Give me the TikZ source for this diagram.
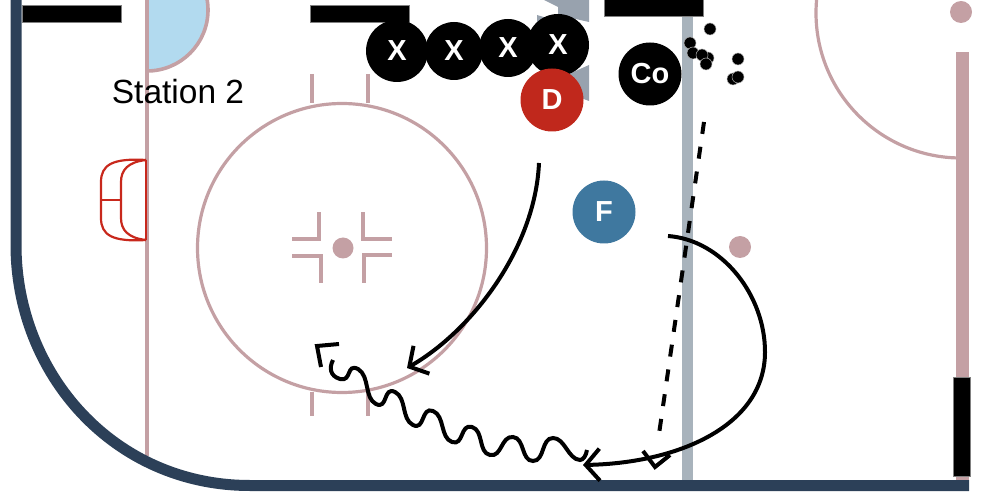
\documentclass[tikz,border=0pt]{standalone}
\usepackage{fontspec}
\setmainfont{Liberation Sans}
\usetikzlibrary{arrows.meta}
\definecolor{boardblue}{HTML}{2C4058}
\definecolor{linepink}{HTML}{C4A0A4}
\definecolor{bluegrey}{HTML}{A8B3BC}
\definecolor{netgrey}{HTML}{98A2AE}
\definecolor{creaseblue}{HTML}{B2DAEF}
\definecolor{netred}{HTML}{C8281C}
\definecolor{defred}{HTML}{C0281C}
\definecolor{fwdblue}{HTML}{3F789F}
\tikzset{
    player/.style={circle,fill=black,text=white,inner sep=0pt,minimum size=60pt,
        font=\bfseries\fontsize{29}{29}\selectfont},
    puck/.style={circle,fill=black,draw=white!70!black,line width=0.5pt,inner sep=0pt,minimum size=12pt},
    rinkline/.style={draw=linepink,line width=3.2pt},
    barrier/.style={fill=black,draw=gray,line width=0.5pt},
    route/.style={draw=black,line width=4pt},
    skate/.style={route,-{Straight Barb[length=14pt,width=32pt]}},
}
\begin{document}
\begin{tikzpicture}[x=1pt,y=-1pt]
    \useasboundingbox (0,0) rectangle (982,502);

    % lines under everything
    \begin{scope}
        \clip (147,-5) rectangle (215,80);
        \fill[creaseblue] (147,10) circle (61);
        \draw[rinkline,line width=3.6pt] (147,10) circle (61);
    \end{scope}
    \draw[rinkline] (147,0) -- (147,456);
    \draw[rinkline] (342,248) circle (144.5);
    \begin{scope}
        \clip (800,-5) rectangle (957,170);
        \draw[rinkline] (961,13) circle (145);
    \end{scope}
    \fill[linepink] (955.5,52) rectangle (969,482);

    % hash marks and face-off dots
    \foreach \x in {312,368}{
        \draw[rinkline] (\x,392) -- (\x,416);
        \draw[rinkline] (\x,74) -- (\x,103);
    }
    \fill[linepink] (343,248) circle (10.5);
    \fill[linepink] (740,247) circle (11);
    \fill[linepink] (961,12) circle (11);
    \draw[rinkline,line width=4pt] (292,239) -- (319,239) -- (319,212);
    \draw[rinkline,line width=4pt] (292,256) -- (321,256) -- (321,283);
    \draw[rinkline,line width=4pt] (392,239) -- (363,239) -- (363,212);
    \draw[rinkline,line width=4pt] (392,255) -- (364,255) -- (364,283);

    % blue line and goal frames
    \fill[bluegrey] (682,16) rectangle (693,481);
    \fill[netgrey] (544,0) -- (558,7) -- (558,15) -- (589,22) -- (589,0) -- cycle;
    \fill[netgrey] (537,15) -- (560,22) -- (537,30) -- cycle;
    \fill[netgrey] (589,65) -- (560,78) -- (560,90) -- (589,101) -- cycle;

    % net
    \draw[netred,line width=2.6pt] (146,160) -- (146,240);
    \draw[netred,line width=2.2pt] (146,160) .. controls (112,158) and (101,165) .. (101,182)
        -- (101,218) .. controls (101,235) and (112,242) .. (146,240);
    \draw[netred,line width=2.2pt] (146,160) .. controls (128,162) and (121,170) .. (121,182)
        -- (121,218) .. controls (121,230) and (128,238) .. (146,240);
    \draw[netred,line width=1.8pt] (101,200) -- (121,200);

    % boards
    \draw[boardblue,line width=11pt] (16,0) -- (16,245) .. controls (16,373) and (113,485.5) .. (250,485.5) -- (969,485.5);

    \fill[barrier] (22,5.5) rectangle (121.5,22);
    \fill[barrier] (310,5.5) rectangle (409,22);
    \fill[barrier] (604,-1) rectangle (703,16);
    \fill[barrier] (953.5,377) rectangle (970.5,476);

    \node (station) at (178,92) {\fontsize{33.5}{34}\selectfont Station 2};

    % players
    \node[player,minimum size=62pt] (xa) at (397,51) {X};
    \node[player,minimum size=58pt] (xb) at (454,51) {X};
    \node[player,minimum size=58pt] (xc) at (508,48) {X};
    \node[player,minimum size=62pt] (xd) at (558,45) {X};
    \node[player,minimum size=63pt] (co) at (650,74) {Co};
    \node[player,fill=defred,minimum size=63pt] (d) at (552,100) {D};
    \node[player,fill=fwdblue,minimum size=63pt] (f) at (604,212) {F};

    % pucks
    \foreach \i/\x/\y in {a/710/29,b/690/43,c/693/53,e/708/58,d/702/55,f/706/64,g/738/59,h/733/79,i/738/77}{
        \node[puck] (puck\i) at (\x,\y) {};
    }

    % routes
    \coordinate (startd) at (539,163);
    \coordinate (endd) at (407,368);
    \coordinate (startf) at (668,236);
    \coordinate (midf) at (765,352);
    \coordinate (endf) at (583,465);
    \coordinate (startco) at (704,122);
    \coordinate (stopco) at (659,434);
    \coordinate (endco) at (655,467);
    \coordinate (startwave) at (587,450);
    \coordinate (stopwave) at (333,360);
    \coordinate (endwave) at (317,346);

    \draw[skate] (startd) .. controls (535,250) and (470,332) .. (endd);
    \draw[route] (startf) .. controls (722,240) and (765,295) .. (midf);
    \draw[skate] (midf) .. controls (765,425) and (680,463) .. (endf);
    \draw[route,dash pattern=on 12pt off 13pt] (startco) -- (stopco);
    \draw[route] (643,451) -- (endco) -- (670,455);

    \draw[route] (startwave) .. controls (586,456) and (583,460) .. (580,460)
        .. controls (568,459.4) and (565,438) .. (553,438)
        .. controls (541,438) and (545,461) .. (533,461)
        .. controls (521,461) and (525,438.2) .. (513,437)
        .. controls (501,435.8) and (502,457.4) .. (490,455)
        .. controls (478,452.6) and (484,430.6) .. (472,427)
        .. controls (460,423.4) and (464,446.2) .. (452,442)
        .. controls (440,437.8) and (445,415.8) .. (433,411)
        .. controls (421,406.2) and (425,431) .. (413,425)
        .. controls (401,419) and (407,398) .. (395,392)
        .. controls (383,386) and (388,410) .. (376,404)
        .. controls (364,398) and (370,376) .. (358,369)
        .. controls (346,363) and (352,382) .. (340,379)
        .. controls (330,376) and (329,368) .. (stopwave);
    \draw[route] (339,344) -- (endwave) -- (321,367);
\end{tikzpicture}
\end{document}
